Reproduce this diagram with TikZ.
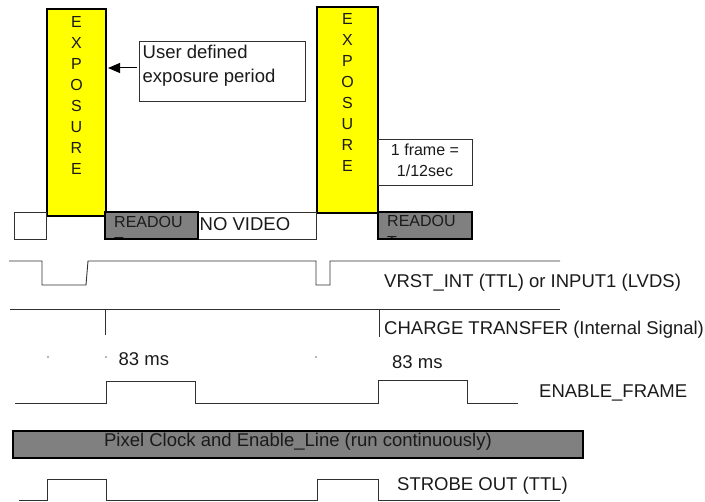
\documentclass[tikz,border=0pt]{standalone}
\usepackage{fontspec}
\setmainfont{Liberation Sans}
\usetikzlibrary{arrows.meta}
\definecolor{barfill}{HTML}{808080}
\definecolor{expyellow}{HTML}{FFFF00}
\definecolor{linegray}{HTML}{303030}
\definecolor{txtgray}{HTML}{1A1A1A}
\begin{document}
\begin{tikzpicture}[x=1pt,y=-1pt,
  sig/.style={draw=linegray, line width=0.9pt, line join=miter},
  expbox/.style={draw=black, line width=2pt, fill=expyellow, inner sep=0pt, outer sep=0pt},
  thinbox/.style={draw=linegray, line width=0.8pt, fill=white, inner sep=0pt, outer sep=0pt},
  graybox/.style={draw=black, line width=2pt, fill=barfill, inner sep=0pt, outer sep=0pt},
  lbl/.style={font=\fontsize{18.5}{21}\selectfont, inner sep=0pt, text=txtgray},
  smalllbl/.style={font=\fontsize{16}{21}\selectfont, inner sep=0pt, text=txtgray},
  letter/.style={font=\fontsize{16}{21}\selectfont, inner sep=0pt, text=txtgray},
  pointer/.style={draw=black, line width=1pt, -{Triangle[length=12pt,width=10pt]}},
  tick/.style={fill=linegray!70, draw=none}
]
\path[use as bounding box] (0,0) rectangle (705,502);

% exposure columns
\node[expbox, minimum width=59pt, minimum height=207pt] (exp1) at (76.5,112.5) {};
\node[expbox, minimum width=61pt, minimum height=206pt] (exp2) at (347.5,110) {};
\foreach \L [count=\i from 0] in {E,X,P,O,S,U,R,E} {
  \node[letter] (ea\i) at (76.5,{22+21*\i}) {\L};
  \node[letter] (eb\i) at (347.5,{19+21*\i}) {\L};
}

% row of boxes
\node[thinbox, minimum width=32pt, minimum height=27pt] (small) at (30,225.5) {};
\node[thinbox, minimum width=118pt, minimum height=27pt] (novid) at (257,225.5) {};
\node[lbl, anchor=base west] (novidt) at (199.5,231) {NO VIDEO};

\fill[barfill] (105,212) rectangle (198,239);
\begin{scope}
  \clip (105,212) rectangle (198,239);
  \node[smalllbl, anchor=base west] (rd1a) at (114,228) {READOU};
  \node[smalllbl, anchor=base west] (rd1b) at (114,249) {T};
\end{scope}
\node[graybox, fill=none, minimum width=93pt, minimum height=27pt] (rd1) at (151.5,225.5) {};

\fill[barfill] (378,212) rectangle (472,239);
\begin{scope}
  \clip (378,212) rectangle (472,239);
  \node[smalllbl, anchor=base west] (rd2a) at (387,227) {READOU};
  \node[smalllbl, anchor=base west] (rd2b) at (387,248) {T};
\end{scope}
\node[graybox, fill=none, minimum width=94pt, minimum height=27pt] (rd2) at (425,225.5) {};

% annotation boxes
\node[thinbox, minimum width=166pt, minimum height=60pt] (udef) at (222,71) {};
\node[lbl, anchor=base west] (udef1) at (142.5,59) {User defined};
\node[lbl, anchor=base west] (udef2) at (142.5,83) {exposure period};
\draw[pointer, shorten <=2pt, shorten >=2pt] ([yshift=3pt]udef.west) -- ([yshift=3pt]udef.west -| exp1.east);

\node[thinbox, minimum width=94pt, minimum height=46pt] (frame) at (425,162) {};
\node[smalllbl, anchor=base] (frame1) at (425,156) {1 frame =};
\node[smalllbl, anchor=base] (frame2) at (425,177) {1/12sec};

% VRST_INT
\draw[sig] (9,261) -- (42,261) -- (42,285) -- (86,285) -- (88,261) -- (316,261)
  -- (316,285) -- (330,285) -- (330,261) -- (560,261);
\node[lbl, anchor=base west] (vrst) at (384,288) {VRST\_INT (TTL) or INPUT1 (LVDS)};

% CHARGE TRANSFER
\draw[sig] (10,309) -- (105,309) -- (105,335);
\draw[sig] (105,309) -- (560,309);
\draw[sig] (379,309) -- (379,337);
\node[lbl, anchor=base west] (charge) at (384,335) {CHARGE TRANSFER (Internal Signal)};

% small dots and 83 ms
\fill[tick] (48,357) circle (0.8);
\fill[tick] (106,357) circle (0.8);
\fill[tick] (316,357) circle (0.8);
\node[lbl, anchor=base west] (ms1) at (118.5,366) {83 ms};
\node[lbl, anchor=base west] (ms2) at (392,369) {83 ms};

% ENABLE_FRAME
\draw[sig] (15,403) -- (106,403) -- (106,381) -- (195,381) -- (195,403) -- (378,403)
  -- (378,380) -- (467,380) -- (467,403) -- (518,403);
\node[lbl, anchor=base west] (enf) at (539,398) {ENABLE\_FRAME};

% Pixel clock bar
\node[graybox, minimum width=570pt, minimum height=27pt] (pix) at (298,444.5) {};
\node[lbl, anchor=base] (pixt) at (298,447) {Pixel Clock and Enable\_Line (run continuously)};

% STROBE OUT
\draw[sig] (19,500) -- (47,500) -- (47,479) -- (106,479) -- (106,500) -- (317,500)
  -- (317,479) -- (378,479) -- (378,500) -- (560,500);
\node[lbl, anchor=base west] (strobe) at (397,491) {STROBE OUT (TTL)};
\end{tikzpicture}
\end{document}
